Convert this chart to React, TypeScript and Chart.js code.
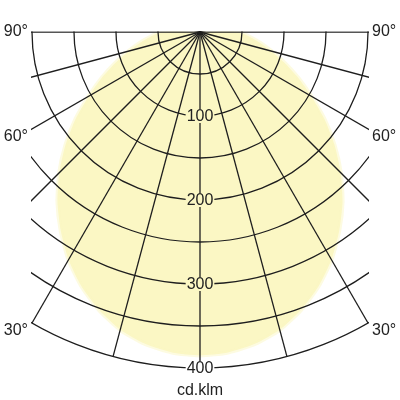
import { useEffect, useRef } from 'react';
import { Chart, registerables } from 'chart.js';

Chart.register(...registerables);

// one half-plane of the (symmetric) light distribution, angle from nadir
const halfAngles = [0, 5, 10, 15, 20, 25, 30, 35, 40, 45, 50, 55, 60, 65, 70, 75, 80, 85, 90];
const halfIntensity = [385, 383, 377, 367, 352, 334, 313, 289, 264, 237, 209, 181, 153, 129, 107, 88, 72, 58, 46];
const ringTicks = [100, 200, 300, 400];
const sideAngles = [90, 60, 30];
const unitLabel = 'cd.klm';

const STEP = 5;
const LINE = '#1e1e1e';
const TEXT = '#222222';
const FILL = '#fbf7c4';
const FONT = '16px "Liberation Sans", Arial, sans-serif';

// full circle of labels for the radar scale, upper half has no light
const angleLabels: string[] = [];
const intensity: number[] = [];
for (let a = 0; a < 360; a += STEP) {
  angleLabels.push(a + '°');
  const mirrored = a <= 180 ? a : 360 - a;
  const i = halfAngles.indexOf(mirrored);
  intensity.push(i >= 0 ? halfIntensity[i] : 0);
}

const polarFrame = {
  id: 'polarFrame',
  beforeDraw(chart: any) {
    const s = chart.scales.r;
    const half = s.getDistanceFromCenterForValue(200);
    const ctx = chart.ctx;
    ctx.save();
    ctx.beginPath();
    ctx.rect(s.xCenter - half - 1, s.yCenter - 0.6, 2 * half + 2, s.drawingArea + 3);
    ctx.clip();
  },
  afterDraw(chart: any) {
    const s = chart.scales.r;
    const ctx = chart.ctx;
    ctx.restore();
    const half = s.getDistanceFromCenterForValue(200);

    ctx.save();
    ctx.font = FONT;
    ctx.textBaseline = 'middle';
    ctx.textAlign = 'center';
    ringTicks.forEach((v) => {
      const p = s.getPointPositionForValue(0, v);
      const label = String(v);
      const w = ctx.measureText(label).width + 2;
      ctx.fillStyle = v < intensity[0] ? FILL : '#ffffff';
      ctx.fillRect(p.x - w / 2, p.y - 7, w, 14);
      ctx.fillStyle = TEXT;
      ctx.fillText(label, p.x, p.y + 1);
    });

    ctx.fillStyle = TEXT;
    sideAngles.forEach((deg) => {
      const d = Math.min(s.drawingArea, half / Math.sin((deg * Math.PI) / 180));
      [deg / STEP, (360 - deg) / STEP].forEach((idx, k) => {
        const p = s.getPointPosition(idx, d);
        ctx.textAlign = k === 0 ? 'right' : 'left';
        const x = k === 0 ? p.x - 4 : p.x + 4;
        ctx.fillText(deg + '°', x, p.y + (deg < 90 ? 8 : 0));
      });
    });

    ctx.textAlign = 'center';
    ctx.fillText(unitLabel, s.xCenter, s.yCenter + s.drawingArea + 23);
    ctx.restore();
  },
};

export default function App() {
  const canvasRef = useRef<HTMLCanvasElement>(null);

  useEffect(() => {
    const canvas = canvasRef.current;
    if (!canvas) return;
    const chart = new Chart(canvas, {
      type: 'radar',
      data: {
        labels: angleLabels,
        datasets: [
          {
            data: intensity,
            fill: 'origin',
            backgroundColor: FILL,
            borderColor: 'rgba(251,247,196,0.5)',
            borderWidth: 4,
            pointRadius: 0,
            tension: 0.2,
          },
        ],
      },
      options: {
        responsive: false,
        devicePixelRatio: 1,
        animation: false,
        layout: { padding: 64 },
        plugins: {
          legend: { display: false },
          tooltip: { enabled: false },
        },
        scales: {
          r: {
            min: 0,
            max: 400,
            startAngle: 180,
            ticks: { display: false, stepSize: 50 },
            pointLabels: { display: false },
            grid: { circular: true, color: LINE, lineWidth: 1.3, z: 1 },
            angleLines: {
              display: true,
              color: LINE,
              lineWidth: (c: any) => (c.index % 3 === 0 ? 1.3 : 0),
            },
          },
        },
      },
      plugins: [polarFrame],
    });
    return () => {
      chart.destroy();
    };
  }, []);

  return (
    <div
      style={{
        position: 'fixed',
        left: 0,
        top: 0,
        width: 400,
        height: 400,
        overflow: 'hidden',
        background: '#ffffff',
      }}
    >
      <canvas
        ref={canvasRef}
        width={800}
        height={800}
        style={{ position: 'absolute', left: -200, top: -368 }}
      />
    </div>
  );
}
